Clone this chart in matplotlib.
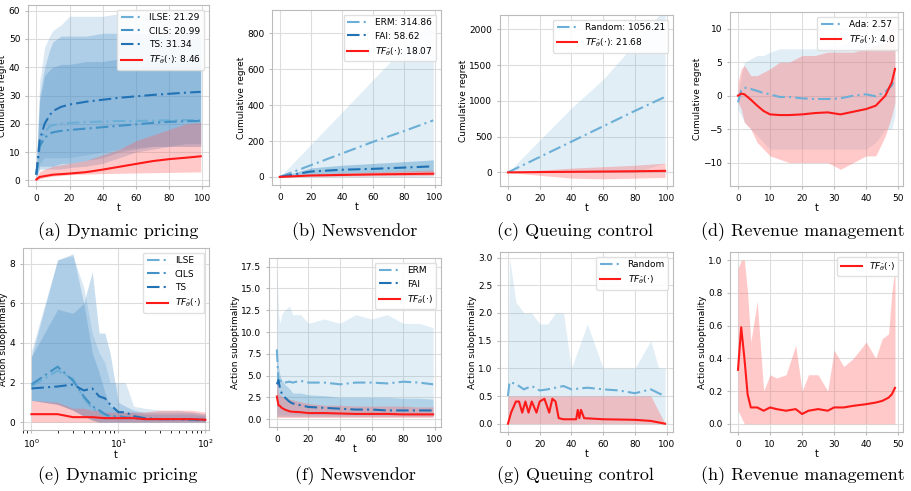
import matplotlib
matplotlib.use("Agg")
import matplotlib.pyplot as plt
import numpy as np

# ---------------- data ----------------
# (a) dynamic pricing cumulative regret
a_t = [0, 2, 5, 8, 10, 15, 20, 30, 40, 50, 60, 70, 80, 90, 99]
a_ilse = [2, 12, 17, 19, 19.5, 20, 20.3, 20.6, 20.8, 21, 21, 21.1, 21.2, 21.3, 21.3]
a_cils = [2, 12, 15, 16.5, 17, 17.5, 17.8, 18.3, 18.8, 19.3, 19.8, 20.3, 20.7, 20.9, 21.0]
a_ts = [2, 14, 20, 23, 24.5, 26, 26.8, 27.8, 28.5, 29.2, 29.7, 30.2, 30.6, 31, 31.3]
a_tf = [0.3, 1.2, 1.5, 1.8, 2, 2.2, 2.4, 2.9, 3.8, 4.8, 5.8, 6.8, 7.5, 8, 8.5]
a_ilse_lo = [1, 6, 8, 8, 8, 8, 8, 9, 10, 11, 11.5, 12, 12, 12, 12]
a_ilse_hi = [4, 35, 47, 51, 53, 55, 58, 58, 58, 59, 59, 59, 59, 59, 59]
a_cils_lo = [1, 5, 5, 5, 5, 6, 6, 7, 8, 10, 11, 12, 12, 13, 13]
a_cils_hi = [4, 28, 37, 39, 40, 41, 41, 42, 42, 43, 43, 43, 43, 43, 43]
a_ts_lo = [1, 4, 4, 4, 4, 4, 4.5, 5, 6, 8, 10, 11, 12, 12, 12]
a_ts_hi = [4, 30, 40, 46, 49, 51, 51, 51, 52, 52, 52, 52, 52, 52, 52]
a_tf_lo = [0, 0.5, 1, 1.3, 1.5, 1.7, 2, 2.2, 2.4, 2.5, 2.6, 2.7, 2.8, 2.9, 3]
a_tf_hi = [1, 3, 4, 4.5, 5, 5.5, 6, 7, 9, 11, 14, 16, 18, 20, 20.5]

# (b) newsvendor cumulative regret
b_t = [0, 20, 40, 60, 80, 99]
b_erm = [0, 65, 130, 195, 255, 315]
b_erm_lo = [0, 0, 0, 0, 0, 0]
b_erm_hi = [0, 180, 360, 540, 720, 880]
b_fai = [0, 30, 40, 45, 52, 59]
b_fai_lo = [0, 15, 20, 25, 28, 30]
b_fai_hi = [0, 50, 65, 75, 85, 95]
b_tf = [0, 8, 11, 14, 16, 18]
b_tf_lo = [0, 2, 4, 6, 7, 8]
b_tf_hi = [0, 15, 22, 28, 33, 38]

# (c) queuing cumulative regret
c_t = [0, 20, 40, 60, 80, 99]
c_rand = [0, 215, 430, 645, 860, 1056]
c_rand_lo = [0, 0, 0, 0, 0, 130]
c_rand_hi = [0, 450, 900, 1300, 1800, 2300]
c_tf = [0, 5, 8, 12, 16, 22]
c_tf_lo = [0, -40, -80, -90, -80, -70]
c_tf_hi = [0, 30, 60, 80, 100, 130]

# (d) revenue management cumulative regret
d_t = [0, 1, 2, 4, 6, 8, 10, 13, 16, 20, 24, 28, 32, 36, 40, 43, 46, 48, 49]
d_ada = [-1, 0.8, 1.2, 1.0, 0.7, 0.4, 0.2, -0.2, -0.2, -0.4, -0.5, -0.5, -0.4, 0, 0.2, -0.1, 0.6, 1.5, 2.57]
d_tf = [0, 0.3, 0.2, -0.6, -1.5, -2.3, -2.8, -2.9, -2.9, -2.8, -2.6, -2.5, -2.8, -2.4, -2.0, -1.5, 0, 2, 4]
d_ada_lo = [-2, -3, -4, -5, -6, -7, -8, -8, -8, -8, -8, -8, -8, -8, -8, -7, -5, -5, -3]
d_ada_hi = [0, 3, 5, 5.5, 6, 6, 6.5, 7, 7, 7, 7, 7.5, 7.5, 8, 8.5, 8.5, 9, 10, 10]
d_tf_lo = [-1, -2, -4, -5, -7, -8, -9, -9.5, -10, -10, -10, -10, -11, -10, -9, -9, -6, -3, -1]
d_tf_hi = [2, 4, 4.5, 3, 3, 3.5, 4, 5, 5, 6, 6, 6.5, 6.5, 6.5, 7, 7.5, 8, 10, 11]

# (e) dynamic pricing action suboptimality (log x)
e_t = [1, 2, 3, 4, 5, 6, 7, 8, 10, 12, 15, 20, 30, 50, 70, 100]
e_ilse = [1.8, 2.6, 2.2, 1.2, 0.7, 0.5, 0.35, 0.3, 0.25, 0.2, 0.2, 0.15, 0.15, 0.15, 0.15, 0.12]
e_cils = [1.9, 2.8, 2.1, 1.3, 0.8, 0.6, 0.4, 0.3, 0.3, 0.25, 0.2, 0.15, 0.15, 0.15, 0.1, 0.1]
e_ts = [1.7, 1.8, 1.9, 1.6, 1.7, 1.3, 1.2, 0.9, 0.5, 0.5, 0.3, 0.2, 0.15, 0.15, 0.15, 0.1]
e_tf = [0.4, 0.4, 0.25, 0.25, 0.25, 0.22, 0.2, 0.2, 0.2, 0.2, 0.2, 0.15, 0.15, 0.15, 0.15, 0.12]
e_lo = [1.1, 0.9, 0.6, 0.3, 0.1, 0, 0, 0, 0, 0, 0, 0, 0, 0, 0, 0]
e_ilse_hi = [3.6, 8.2, 8.4, 6.8, 4.5, 3.5, 3, 2, 2, 2, 0.8, 0.7, 0.6, 0.6, 0.5, 0.4]
e_cils_hi = [3.3, 5.7, 5.5, 6, 3.5, 2.5, 1.5, 0.8, 0.6, 0.5, 0.5, 0.4, 0.4, 0.4, 0.4, 0.3]
e_ts_hi = [3.3, 8.2, 8.5, 6, 7.6, 4.5, 4.5, 3.5, 1.0, 0.8, 0.6, 0.5, 0.5, 0.5, 0.5, 0.4]
e_tf_lo = [0, 0, 0, 0, 0, 0, 0, 0, 0, 0, 0, 0, 0, 0, 0, 0]
e_tf_hi = [1.1, 1.0, 0.7, 0.7, 0.6, 0.6, 0.5, 0.5, 0.5, 0.5, 0.5, 0.5, 0.6, 0.6, 0.6, 0.5]

# (f) newsvendor action suboptimality
f_t = [0, 1, 2, 3, 5, 8, 10, 15, 20, 30, 40, 50, 60, 70, 80, 90, 99]
f_erm = [8, 4, 4.5, 4.2, 4.2, 4.3, 4.2, 4.4, 4.2, 4.2, 4.0, 4.2, 4.2, 4.1, 4.3, 4.2, 4.0]
f_fai = [4, 4.5, 3.5, 3, 2.5, 2, 1.8, 1.6, 1.4, 1.3, 1.2, 1.1, 1.1, 1.0, 1.0, 1.0, 1.0]
f_tf = [2.6, 1.6, 1.5, 1.3, 1.1, 0.9, 0.85, 0.8, 0.7, 0.7, 0.65, 0.6, 0.6, 0.6, 0.55, 0.55, 0.55]
f_erm_lo = [0.5] * 17
f_erm_hi = [17.5, 12, 11, 12, 12.5, 13, 12, 12, 11, 11.5, 11, 12, 11.5, 12, 11, 11, 10.5]
f_fai_lo = [0.3] * 17
f_fai_hi = [8, 6, 5, 4.5, 4, 3.5, 3, 3, 2.8, 2.7, 2.5, 2.5, 2.5, 2.5, 2.4, 2.4, 2.3]
f_tf_lo = [0.2] * 17
f_tf_hi = [5, 3, 2.8, 2.6, 2.5, 2.3, 2.2, 2, 1.8, 1.6, 1.6, 1.5, 1.5, 1.5, 1.5, 1.4, 1.4]

# (g) queuing action suboptimality
g_t = [0, 1, 5, 10, 15, 20, 25, 30, 35, 40, 50, 60, 70, 80, 90, 95, 99]
g_rand = [0.5, 0.75, 0.72, 0.62, 0.68, 0.6, 0.62, 0.65, 0.68, 0.62, 0.65, 0.62, 0.6, 0.55, 0.62, 0.55, 0.5]
g_rand_lo = [0] * 17
g_rand_hi = [1, 3, 2.2, 2.0, 2.0, 1.8, 1.8, 2.0, 2.0, 1.0, 1.8, 1.0, 1.0, 1.0, 1.5, 1.0, 1.0]
g_tf_t = [0, 2, 5, 7, 9, 11, 13, 15, 18, 20, 23, 26, 28, 30, 32, 35, 40, 43, 44, 45, 46, 48, 60, 80, 90, 99]
g_tf = [0, 0.2, 0.4, 0.4, 0.2, 0.4, 0.2, 0.4, 0.2, 0.4, 0.45, 0.2, 0.45, 0.4, 0.1, 0.08, 0.08, 0.08,
        0.25, 0.1, 0.25, 0.1, 0.08, 0.07, 0.05, 0]
g_tf_lo = [0] * 26
g_tf_hi = [0.5] * 25 + [0]

# (h) revenue management action suboptimality
h_t = [0, 1, 2, 3, 4, 6, 8, 10, 12, 15, 18, 20, 22, 25, 28, 30, 33, 36, 40, 43, 45, 47, 48, 49]
h_tf = [0.33, 0.59, 0.4, 0.18, 0.1, 0.1, 0.08, 0.1, 0.09, 0.08, 0.09, 0.06, 0.08, 0.09, 0.08, 0.1,
        0.1, 0.11, 0.12, 0.13, 0.14, 0.16, 0.18, 0.22]
h_lo = [0.08, 0.04] + [0.0] * 22
h_hi = [0.95, 1.0, 1.0, 0.8, 0.5, 0.75, 0.2, 0.3, 0.28, 0.3, 0.48, 0.2, 0.3, 0.3, 0.2, 0.45, 0.35,
        0.4, 0.5, 0.4, 0.52, 0.55, 0.8, 0.95]

captions = ["(a) Dynamic pricing", "(b) Newsvendor", "(c) Queuing control", "(d) Revenue management",
            "(e) Dynamic pricing", "(f) Newsvendor", "(g) Queuing control", "(h) Revenue management"]

TF = r'$TF_{\hat{\theta}}(\cdot)$'
C1, C2, C3 = '#6baed6', '#4292c6', '#2171b5'
RED = '#ff1a1a'

# ---------------- figure ----------------
W, H = 911, 491
fig = plt.figure(figsize=(W / 100, H / 100), dpi=100)

def mk(l, r, t, b):
    ax = fig.add_axes([l / W, 1 - b / H, (r - l) / W, (b - t) / H])
    ax.grid(True, color='#dddddd', lw=0.8)
    ax.set_axisbelow(True)
    for s in ax.spines.values():
        s.set_color('#bbbbbb')
    ax.tick_params(labelsize=6.5, length=2, color='#bbbbbb')
    ax.set_xlabel('t', fontsize=7, labelpad=0)
    return ax

def leg(ax, loc='upper right'):
    ax.legend(fontsize=6.5, loc=loc, framealpha=0.9, edgecolor='#dddddd', handlelength=2.3)

dash = (0, (6, 2, 1, 2))

# (a)
ax = mk(28, 209, 5, 186)
for lo, hi, al in [(a_ilse_lo, a_ilse_hi, 0.2), (a_cils_lo, a_cils_hi, 0.3), (a_ts_lo, a_ts_hi, 0.3)]:
    ax.fill_between(a_t, lo, hi, color='#4a90c8', alpha=al, lw=0)
ax.fill_between(a_t, a_tf_lo, a_tf_hi, color='#ff6666', alpha=0.35, lw=0)
ax.plot(a_t, a_ilse, color=C1, ls=dash, lw=1.5, label='ILSE: 21.29')
ax.plot(a_t, a_cils, color=C2, ls=dash, lw=1.5, label='CILS: 20.99')
ax.plot(a_t, a_ts, color=C3, ls=dash, lw=1.5, label='TS: 31.34')
ax.plot(a_t, a_tf, color=RED, lw=1.5, label=TF + ': 8.46')
ax.set_ylim(-2, 62); ax.set_xlim(-5, 104)
ax.set_ylabel('Cumulative regret', fontsize=6.5, labelpad=1)
leg(ax)

# (b)
ax = mk(272, 441, 10, 185)
ax.fill_between(b_t, b_erm_lo, b_erm_hi, color=C1, alpha=0.2, lw=0)
ax.fill_between(b_t, b_fai_lo, b_fai_hi, color=C2, alpha=0.4, lw=0)
ax.fill_between(b_t, b_tf_lo, b_tf_hi, color='#ff6666', alpha=0.35, lw=0)
ax.plot(b_t, b_erm, color=C1, ls=dash, lw=1.5, label='ERM: 314.86')
ax.plot(b_t, b_fai, color=C3, ls=dash, lw=1.5, label='FAI: 58.62')
ax.plot(b_t, b_tf, color=RED, lw=1.5, label=TF + ': 18.07')
ax.set_ylim(-45, 930); ax.set_xlim(-5, 104)
ax.set_ylabel('Cumulative regret', fontsize=6.5, labelpad=1)
leg(ax)

# (c)
ax = mk(500, 673, 15, 186)
ax.fill_between(c_t, c_rand_lo, c_rand_hi, color=C1, alpha=0.2, lw=0)
ax.fill_between(c_t, c_tf_lo, c_tf_hi, color='#ff6666', alpha=0.35, lw=0)
ax.plot(c_t, c_rand, color=C1, ls=dash, lw=1.5, label='Random: 1056.21')
ax.plot(c_t, c_tf, color=RED, lw=1.5, label=TF + ': 21.68')
ax.set_ylim(-190, 2200); ax.set_xlim(-5, 104)
ax.set_ylabel('Cumulative regret', fontsize=6.5, labelpad=1)
leg(ax)

# (d)
ax = mk(730, 903, 12, 186)
ax.fill_between(d_t, d_ada_lo, d_ada_hi, color=C1, alpha=0.2, lw=0)
ax.fill_between(d_t, d_tf_lo, d_tf_hi, color='#ff6666', alpha=0.35, lw=0)
ax.plot(d_t, d_ada, color=C1, ls=dash, lw=1.5, label='Ada: 2.57')
ax.plot(d_t, d_tf, color=RED, lw=1.5, label=TF + ': 4.0')
ax.set_ylim(-13.5, 12.5); ax.set_xlim(-2.5, 51.5)
ax.set_ylabel('Cumulative regret', fontsize=6.5, labelpad=1)
leg(ax)

# (e)
ax = mk(23, 209, 248, 430)
ax.set_xscale('log')
for hi, al in [(e_ilse_hi, 0.2), (e_cils_hi, 0.3), (e_ts_hi, 0.3)]:
    ax.fill_between(e_t, e_lo, hi, color='#4a90c8', alpha=al, lw=0)
ax.fill_between(e_t, e_tf_lo, e_tf_hi, color='#ff6666', alpha=0.35, lw=0)
ax.plot(e_t, e_ilse, color=C1, ls=dash, lw=1.5, label='ILSE')
ax.plot(e_t, e_cils, color=C2, ls=dash, lw=1.5, label='CILS')
ax.plot(e_t, e_ts, color=C3, ls=dash, lw=1.5, label='TS')
ax.plot(e_t, e_tf, color=RED, lw=1.5, label=TF)
ax.set_ylim(-0.4, 8.8); ax.set_xlim(0.8, 110)
ax.set_ylabel('Action suboptimality', fontsize=6.5, labelpad=1)
leg(ax)

# (f)
ax = mk(269, 441, 258, 427)
ax.fill_between(f_t, f_erm_lo, f_erm_hi, color=C1, alpha=0.2, lw=0)
ax.fill_between(f_t, f_fai_lo, f_fai_hi, color=C2, alpha=0.3, lw=0)
ax.fill_between(f_t, f_tf_lo, f_tf_hi, color='#ff6666', alpha=0.35, lw=0)
ax.plot(f_t, f_erm, color=C1, ls=dash, lw=1.5, label='ERM')
ax.plot(f_t, f_fai, color=C3, ls=dash, lw=1.5, label='FAI')
ax.plot(f_t, f_tf, color=RED, lw=1.5, label=TF)
ax.set_ylim(-0.9, 18.5); ax.set_xlim(-5, 104)
ax.set_ylabel('Action suboptimality', fontsize=6.5, labelpad=1)
leg(ax)

# (g)
ax = mk(500, 673, 252, 432)
ax.fill_between(g_t, g_rand_lo, g_rand_hi, color=C1, alpha=0.2, lw=0)
ax.fill_between(g_tf_t, g_tf_lo, g_tf_hi, color='#ff6666', alpha=0.35, lw=0)
ax.plot(g_t, g_rand, color=C1, ls=dash, lw=1.5, label='Random')
ax.plot(g_tf_t, g_tf, color=RED, lw=1.5, label=TF)
ax.set_ylim(-0.15, 3.1); ax.set_xlim(-5, 104)
ax.set_ylabel('Action suboptimality', fontsize=6.5, labelpad=1)
leg(ax)

# (h)
ax = mk(730, 903, 252, 432)
ax.fill_between(h_t, h_lo, h_hi, color='#ff6666', alpha=0.35, lw=0)
ax.plot(h_t, h_tf, color=RED, lw=1.5, label=TF)
ax.set_ylim(-0.05, 1.05); ax.set_xlim(-2.5, 51.5)
ax.set_ylabel('Action suboptimality', fontsize=6.5, labelpad=1)
leg(ax)

cx = [118, 355, 575, 803]
for i, cap in enumerate(captions):
    y = 232 if i < 4 else 476
    fig.text(cx[i % 4] / W, 1 - y / H, cap, fontsize=13, family='cmr10', ha='center', va='center')

fig.savefig('out.png', dpi=100)
